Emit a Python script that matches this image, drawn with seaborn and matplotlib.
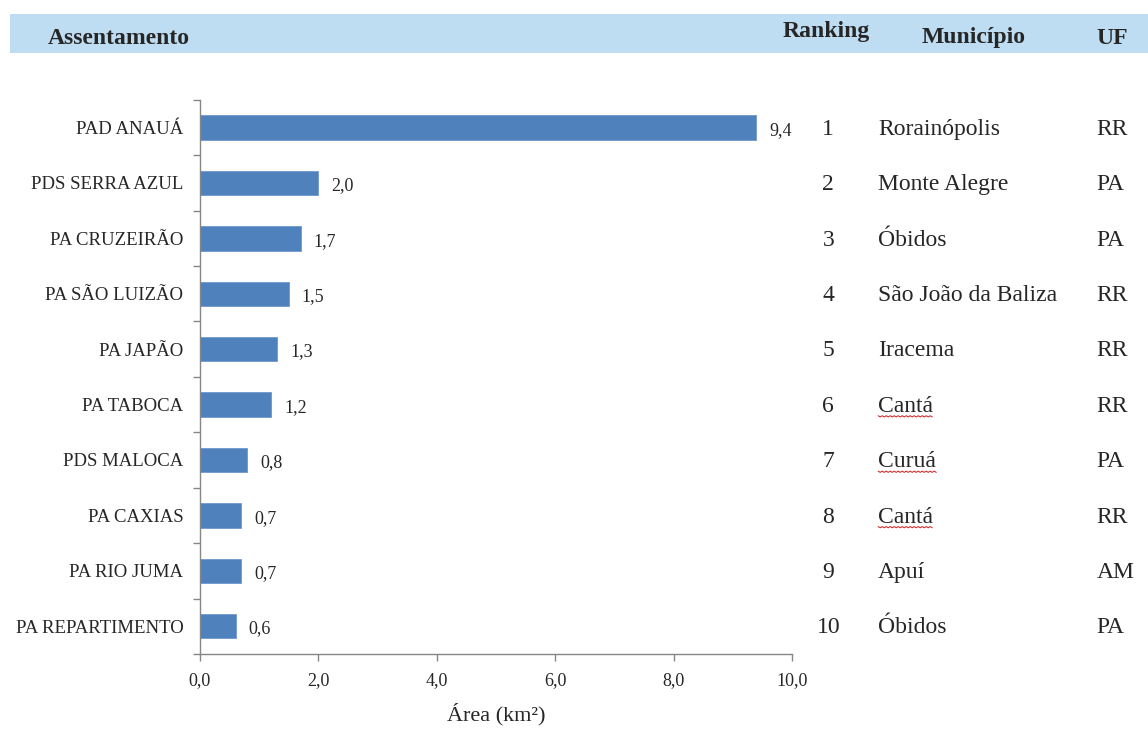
# Ranking dos assentamentos por área (km2)

import numpy as np
import pandas as pd
import matplotlib
matplotlib.use("Agg")
import matplotlib.pyplot as plt
from matplotlib.patches import Rectangle
from matplotlib.lines import Line2D
from matplotlib.transforms import blended_transform_factory
import seaborn as sns

assentamentos = ["PAD ANAUÁ", "PDS SERRA AZUL", "PA CRUZEIRÃO", "PA SÃO LUIZÃO", "PA JAPÃO",
                 "PA TABOCA", "PDS MALOCA", "PA CAXIAS", "PA RIO JUMA", "PA REPARTIMENTO"]
area = [9.4, 2.0, 1.7, 1.5, 1.3, 1.2, 0.8, 0.7, 0.7, 0.6]
ranking = ["1", "2", "3", "4", "5", "6", "7", "8", "9", "10"]
municipios = ["Rorainópolis", "Monte Alegre", "Óbidos", "São João da Baliza", "Iracema",
              "Cantá", "Curuá", "Cantá", "Apuí", "Óbidos"]
ufs = ["RR", "PA", "PA", "RR", "RR", "RR", "PA", "RR", "AM", "PA"]
sublinhados = ["Cantá", "Curuá"]  # marcados pelo corretor ortográfico
xticks = [0, 2, 4, 6, 8, 10]

sns.set_style("white")
plt.rcParams["font.family"] = ["Liberation Serif", "DejaVu Serif"]

df = pd.DataFrame(dict(assentamento=assentamentos, area=area))

fig = plt.figure(figsize=(11.48, 7.29), dpi=100)
ax = fig.add_axes([0.1742, 0.103, 0.5157, 0.760])

sns.barplot(data=df, x="area", y="assentamento", orient="h", color="#4F81BD",
            saturation=1, width=0.44, edgecolor="#6E98CC", linewidth=0.6, ax=ax)

ax.set_xlim(0, 10)
ax.set_ylim(9.5, -0.5)
ax.set_xticks(xticks)
ax.set_xticklabels([f"{t:.1f}".replace(".", ",") for t in xticks], fontsize=13)
ax.set_yticks(range(len(assentamentos)))
ax.set_yticklabels(assentamentos, fontsize=13.5)
ax.set_yticks(np.arange(-0.5, 10, 1.0), minor=True)
ax.tick_params(axis="y", which="major", left=False, length=0, pad=12)
ax.tick_params(axis="y", which="minor", left=True, length=5, color="#868686", direction="out", width=1)
ax.tick_params(axis="x", bottom=True, length=5, color="#868686", direction="out", width=1, pad=8)
ax.set_xlabel("Área (km²)", fontsize=16, labelpad=10)
ax.set_ylabel("")
for s in ["top", "right"]:
    ax.spines[s].set_visible(False)
for s in ["left", "bottom"]:
    ax.spines[s].set_color("#868686")
    ax.spines[s].set_linewidth(1)

for i, v in enumerate(area):
    ax.text(v + 0.22, i + 0.05, f"{v:.1f}".replace(".", ","), va="center", ha="left", fontsize=13)

# table at the right
tr = blended_transform_factory(fig.transFigure, ax.transData)
mun_texts = []
for i in range(len(ranking)):
    ax.text(0.7215, i + 0.03, ranking[i], transform=tr, ha="center", va="center", fontsize=17, clip_on=False)
    t = ax.text(0.765, i + 0.03, municipios[i], transform=tr, ha="left", va="center", fontsize=17, clip_on=False)
    mun_texts.append(t)
    ax.text(0.955, i + 0.03, ufs[i], transform=tr, ha="left", va="center", fontsize=17, clip_on=False)

# red wavy underline under the flagged names
fig.canvas.draw()
r = fig.canvas.get_renderer()
for t in mun_texts:
    if t.get_text() in sublinhados:
        bb = t.get_window_extent(r)
        xs = np.arange(bb.x0, bb.x1 + 1, 2.0)
        ys = bb.y0 + 1 - 1.2 * (np.arange(len(xs)) % 2)
        fig.add_artist(Line2D(xs, ys, transform=None, color="#D03030", lw=0.8))

# header band
fig.patches.append(Rectangle((0.009, 1 - 53 / 729), 0.991, 39 / 729, transform=fig.transFigure,
                             facecolor="#BEDDF2", edgecolor="none", zorder=0))
hy = 1 - 38 / 729
fig.text(0.042, hy, "Assentamento", ha="left", va="center", fontsize=17, fontweight="bold")
fig.text(0.7195, 1 - 32 / 729, "Ranking", ha="center", va="center", fontsize=17, fontweight="bold")
fig.text(0.803, hy, "Município", ha="left", va="center", fontsize=17, fontweight="bold")
fig.text(0.955, hy, "UF", ha="left", va="center", fontsize=17, fontweight="bold")

fig.savefig("out.png", dpi=100)
